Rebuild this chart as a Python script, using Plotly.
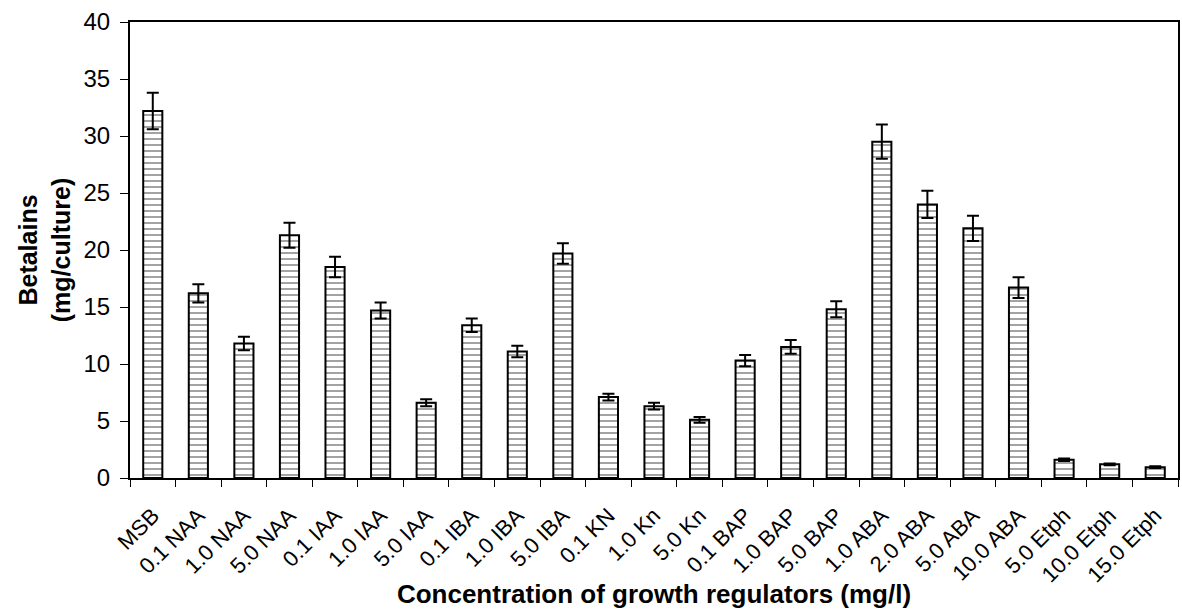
import plotly.graph_objects as go

# Growth regulator treatments and betalain yield (mg/culture) with error
treatments = [
    "MSB", "0.1 NAA", "1.0 NAA", "5.0 NAA", "0.1 IAA", "1.0 IAA", "5.0 IAA",
    "0.1 IBA", "1.0 IBA", "5.0 IBA", "0.1 KN", "1.0 Kn", "5.0 Kn",
    "0.1 BAP", "1.0 BAP", "5.0 BAP", "1.0 ABA", "2.0 ABA", "5.0 ABA",
    "10.0 ABA", "5.0 Etph", "10.0 Etph", "15.0 Etph",
]
betalains = [
    32.2, 16.2, 11.8, 21.3, 18.5, 14.7, 6.6,
    13.4, 11.1, 19.7, 7.1, 6.3, 5.1,
    10.3, 11.5, 14.8, 29.5, 24.0, 21.9,
    16.7, 1.6, 1.2, 0.95,
]
errors = [
    1.6, 0.8, 0.6, 1.1, 0.9, 0.7, 0.3,
    0.6, 0.5, 0.9, 0.3, 0.3, 0.25,
    0.5, 0.6, 0.7, 1.5, 1.2, 1.1,
    0.9, 0.1, 0.08, 0.07,
]
y_ticks = [0, 5, 10, 15, 20, 25, 30, 35, 40]

font_family = "Liberation Sans"

fig = go.Figure(
    go.Bar(
        x=treatments,
        y=betalains,
        width=0.42,
        marker=dict(
            color="white",
            line=dict(color="black", width=2),
            pattern=dict(shape="-", fgcolor="#333333", bgcolor="white",
                         size=6, solidity=0.3),
        ),
        error_y=dict(type="data", array=errors, visible=True,
                     color="black", thickness=2, width=6),
    )
)

fig.update_layout(
    width=1182,
    height=609,
    margin=dict(l=130, r=4, t=22, b=131),
    plot_bgcolor="white",
    paper_bgcolor="white",
    showlegend=False,
    font=dict(family=font_family, color="black"),
)

fig.update_xaxes(
    type="category",
    automargin=False,
    showline=True, linecolor="black", linewidth=2, mirror=True,
    ticks="outside", tickson="boundaries", ticklen=7, tickcolor="black",
    tickwidth=1,
    tickangle=-45,
    ticklabelstandoff=14,
    tickfont=dict(size=22, family=font_family),
    showgrid=False,
    title=dict(text="<b>Concentration of growth regulators (mg/l)</b>",
               font=dict(size=26, family=font_family), standoff=0),
)

fig.update_yaxes(
    range=[0, 40],
    automargin=False,
    tickvals=y_ticks,
    showline=True, linecolor="black", linewidth=2, mirror=True,
    ticks="outside", ticklen=8, tickcolor="black", tickwidth=1,
    ticklabelstandoff=5,
    tickfont=dict(size=24, family=font_family),
    showgrid=False, zeroline=False,
    title=dict(text="<b>Betalains<br>(mg/culture)</b>",
               font=dict(size=25, family=font_family), standoff=6),
)

fig.write_html("out.html")
